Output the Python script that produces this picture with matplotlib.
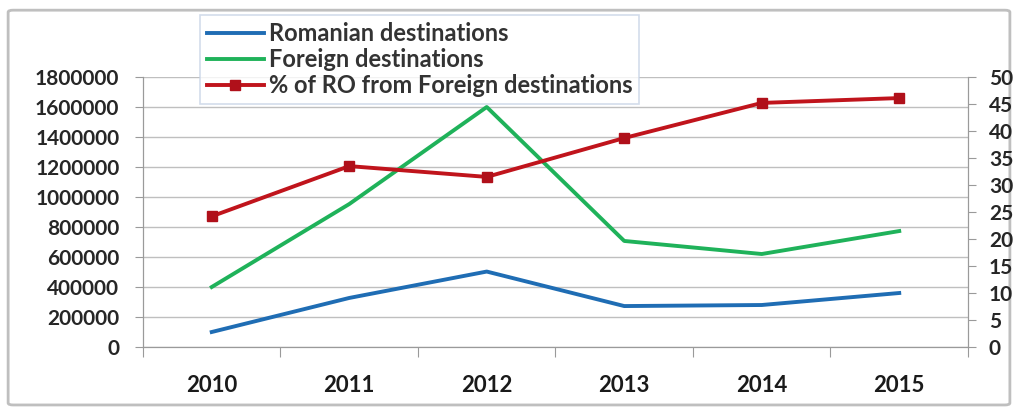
import matplotlib.pyplot as plt
from matplotlib.patches import FancyBboxPatch

# data
years = ['2010', '2011', '2012', '2013', '2014', '2015']
romanian = [100000, 327000, 503000, 273000, 280000, 360000]
foreign = [400000, 953000, 1600000, 707000, 620000, 773000]
pct_ro = [24.2, 33.5, 31.5, 38.7, 45.2, 46.1]

left_ticks = list(range(0, 1800001, 200000))
right_ticks = list(range(0, 51, 5))

plt.rcParams['font.family'] = ['Lato', 'DejaVu Sans']

fig = plt.figure(figsize=(10.17, 4.07), dpi=100)

# outer chart frame
frame = FancyBboxPatch((0.008, 0.005), 0.985, 0.97, boxstyle='round,pad=0,rounding_size=0.005',
                       transform=fig.transFigure, facecolor='none', edgecolor='#bfbfbf',
                       linewidth=2.0, zorder=-1)
fig.patches.append(frame)

ax = fig.add_axes([0.1406, 0.1474, 0.8112, 0.6634])
ax.set_facecolor('none')
x = list(range(len(years)))

ax.plot(x, romanian, color='#1f6db4', lw=2.8, label='Romanian destinations', zorder=3)
ax.plot(x, foreign, color='#1fb25a', lw=2.8, label='Foreign destinations', zorder=3)
ax.set_ylim(0, 1800000)
ax.set_xlim(-0.5, 5.5)
ax.set_yticks(left_ticks)
ax.set_yticklabels([str(v) for v in left_ticks])
ax.grid(axis='y', color='#bfbfbf', lw=1)
ax.set_axisbelow(True)

ax2 = ax.twinx()
ax2.plot(x, pct_ro, color='#c0141c', lw=2.8, marker='s', markersize=7,
         markerfacecolor='#b0101a', markeredgecolor='#b0101a',
         label='% of RO from Foreign destinations', zorder=3)
ax2.set_ylim(0, 50)
ax2.set_yticks(right_ticks)

ax.set_xticks([i - 0.5 for i in range(len(years) + 1)], minor=False)
ax.set_xticklabels([''] * (len(years) + 1))
ax.set_xticks(x, minor=True)
ax.set_xticklabels(years, minor=True, fontsize=16, fontweight='bold', color='#1a1a1a')
ax.tick_params(axis='x', which='major', length=7, color='#9a9a9a')
ax.tick_params(axis='x', which='minor', length=0, pad=20)
ax.tick_params(axis='y', length=6, color='#9a9a9a', labelsize=15, labelcolor='#262626', pad=11)
ax2.tick_params(axis='y', length=6, color='#9a9a9a', labelsize=15, labelcolor='#262626', pad=9)
for a in (ax, ax2):
    for s in a.spines.values():
        s.set_color('#9a9a9a')
    a.spines['top'].set_visible(False)
for lab in ax.get_yticklabels() + ax2.get_yticklabels():
    lab.set_fontweight('bold')

h1, l1 = ax.get_legend_handles_labels()
h2, l2 = ax2.get_legend_handles_labels()
leg = fig.legend(h1 + h2, l1 + l2, loc='upper left', bbox_to_anchor=(0.1967, 0.963),
                 borderaxespad=0, frameon=True, fancybox=False, handlelength=2.4,
                 handletextpad=0.2, labelspacing=0.12, borderpad=0.3,
                 prop={'weight': 'bold', 'size': 17})
leg.get_frame().set_edgecolor('#c8d4e6')
leg.get_frame().set_linewidth(1.2)
for t in leg.get_texts():
    t.set_color('#333333')
leg.set_zorder(10)

fig.savefig('out.png', dpi=100)
